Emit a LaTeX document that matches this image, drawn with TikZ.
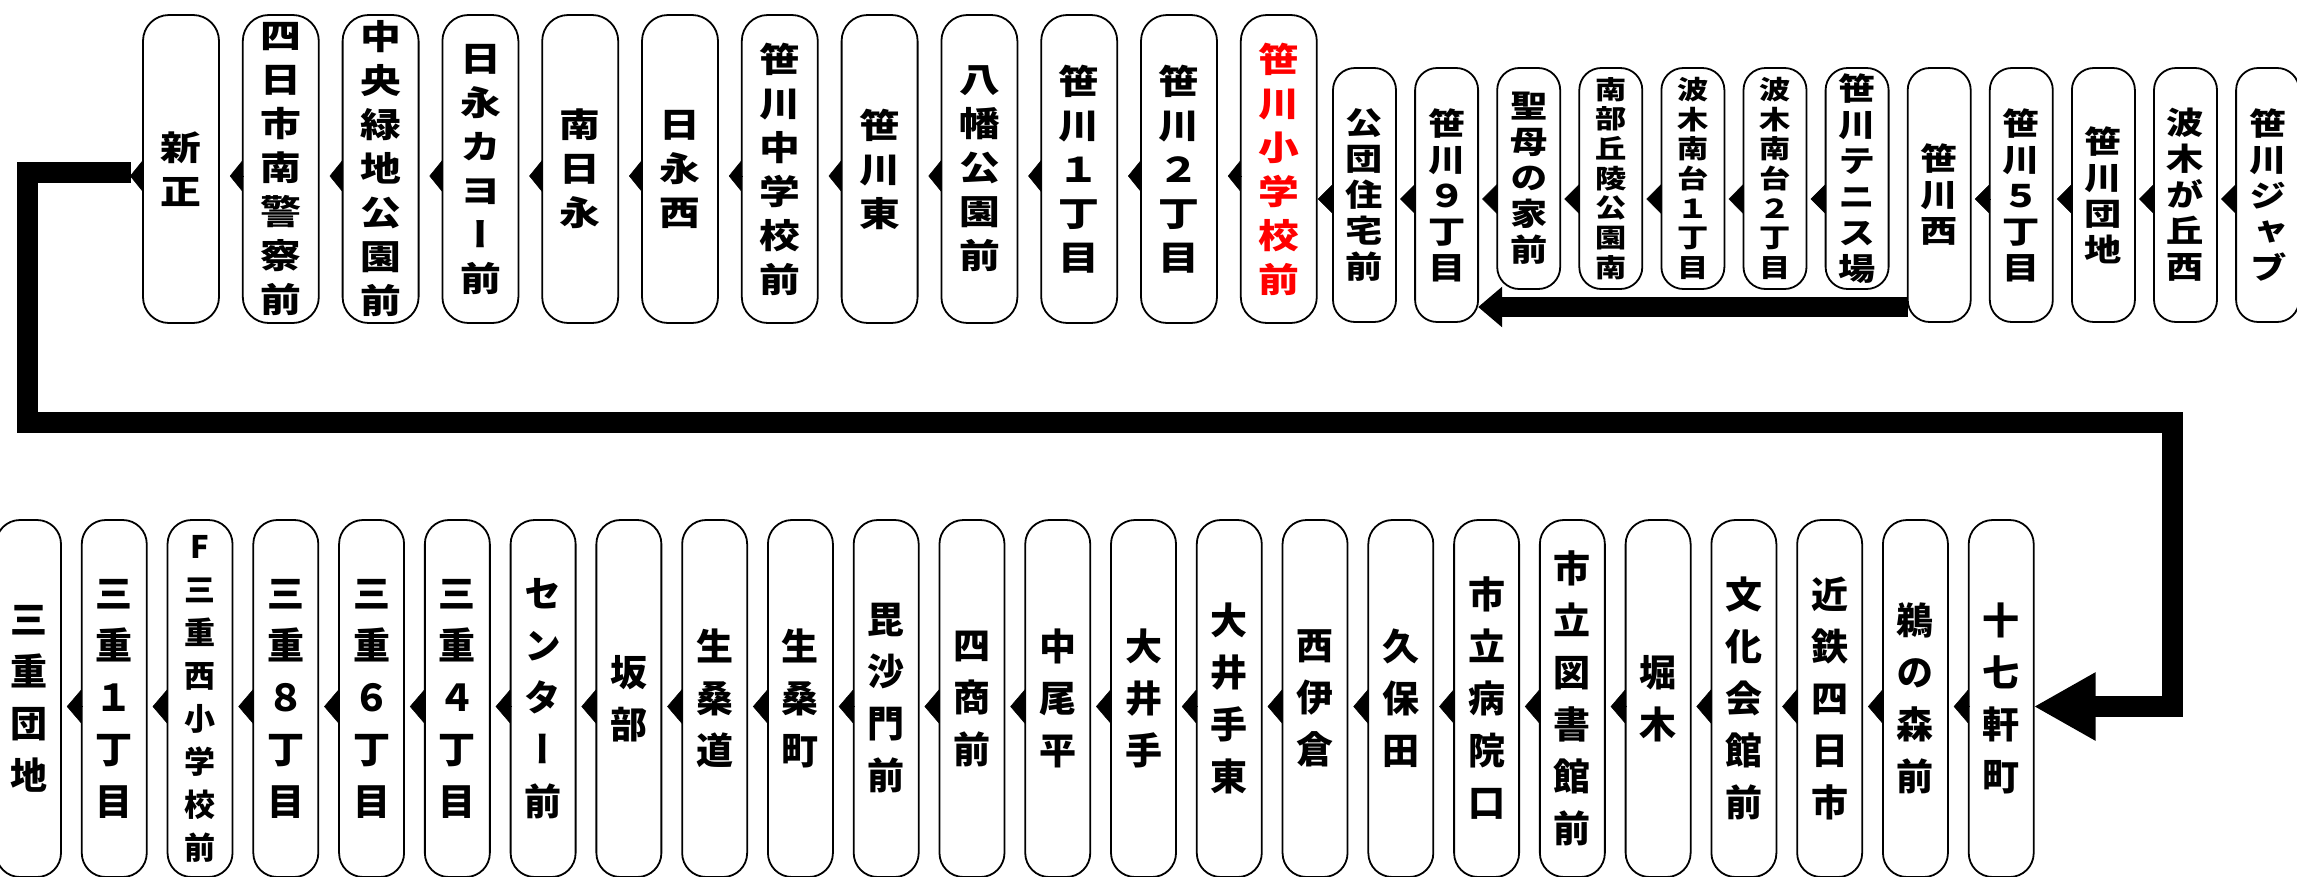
\documentclass[tikz,border=0pt]{standalone}
\usepackage{fontspec}
\newfontfamily\gothic{Noto Sans CJK JP}[RawFeature=+vert]
\newfontfamily\widegothic{Noto Sans CJK JP}[FakeStretch=1.2,RawFeature=+vert]
\usetikzlibrary{positioning, arrows.meta}

\begin{document}
\begin{tikzpicture}[x=1pt, y=-1pt]

\tikzset{
  stopbox/.style={
    rectangle, draw, line width=1.8pt, fill=white, align=center,
    inner sep=0pt, outer sep=0pt,
    font=\widegothic\bfseries\fontsize{34}{44}\selectfont
  },
  tallstop/.style={stopbox, rounded corners=26pt, minimum width=76pt, minimum height=308pt},
  shortstop/.style={stopbox, rounded corners=22pt, minimum width=63pt, minimum height=254pt,
    font=\widegothic\bfseries\fontsize{31}{36}\selectfont},
  loopstop/.style={shortstop, minimum height=221pt},
  smalltext/.style={font=\widegothic\bfseries\fontsize{26}{29.7}\selectfont},
  lowstop/.style={stopbox, rounded corners=24pt, minimum width=65pt, minimum height=357pt,
    font=\gothic\bfseries\fontsize{37}{52}\selectfont},
  toptip/.style={-{Triangle[length=13pt, width=32pt]}, line width=0.5pt, shorten >=10.8pt},
  midtip/.style={-{Triangle[length=15pt, width=30pt]}, line width=0.5pt, shorten >=4.1pt},
  lowtip/.style={-{Triangle[length=15pt, width=35pt]}, line width=0.5pt, shorten >=5.8pt},
  route/.style={-{Triangle[length=62pt, width=64pt]}, line width=21pt},
  branch/.style={-{Triangle[length=24pt, width=39pt]}, line width=20pt}
}

\useasboundingbox (0,0) rectangle (2297,876);

% =========================================================
% Upper row: tall stops
% =========================================================
\node[tallstop, anchor=north west] (shinsho) at (143,15) {新\\正};
\node[tallstop, right=23.8pt of shinsho] (keisatsu) {四\\日\\市\\南\\警\\察\\前};
\node[tallstop, right=23.8pt of keisatsu] (ryokuchi) {中\\央\\緑\\地\\公\\園\\前};
\node[tallstop, right=23.8pt of ryokuchi] (kayo) {日\\永\\カ\\ヨ\\ー\\前};
\node[tallstop, right=23.8pt of kayo] (minamihinaga) {南\\日\\永};
\node[tallstop, right=23.8pt of minamihinaga] (hinaganishi) {日\\永\\西};
\node[tallstop, right=23.8pt of hinaganishi] (chugaku) {笹\\川\\中\\学\\校\\前};
\node[tallstop, right=23.8pt of chugaku] (sasahigashi) {笹\\川\\東};
\node[tallstop, right=23.8pt of sasahigashi] (hachiman) {八\\幡\\公\\園\\前};
\node[tallstop, right=23.8pt of hachiman] (sasa1) {笹\\川\\１\\丁\\目};
\node[tallstop, right=23.8pt of sasa1] (sasa2) {笹\\川\\２\\丁\\目};
\node[tallstop, right=23.8pt of sasa2, text=red] (shogaku) {笹\\川\\小\\学\\校\\前};

% =========================================================
% Upper row: short stops and the tennis court loop
% =========================================================
\node[shortstop, anchor=north west] (kodan) at (1333,68) {公\\団\\住\\宅\\前};
\node[shortstop, right=19.1pt of kodan] (sasa9) {笹\\川\\９\\丁\\目};
\node[loopstop, right=19.1pt of sasa9.north east, anchor=north west] (seibo) {聖\\母\\の\\家\\前};
\node[loopstop, smalltext, right=19.1pt of seibo] (kyuryo) {南\\部\\丘\\陵\\公\\園\\南};
\node[loopstop, smalltext, right=19.1pt of kyuryo] (namiki1) {波\\木\\南\\台\\１\\丁\\目};
\node[loopstop, smalltext, right=19.1pt of namiki1] (namiki2) {波\\木\\南\\台\\２\\丁\\目};
\node[loopstop, right=19.1pt of namiki2] (tennis) {笹\\川\\テ\\ニ\\ス\\場};
\node[shortstop, right=19.1pt of tennis.north east, anchor=north west] (sasanishi) {笹\\川\\西};
\node[shortstop, right=19.1pt of sasanishi] (sasa5) {笹\\川\\５\\丁\\目};
\node[shortstop, right=19.1pt of sasa5] (danchi) {笹\\川\\団\\地};
\node[shortstop, right=19.1pt of danchi] (namikigaoka) {波\\木\\が\\丘\\西};
\node[shortstop, right=19.1pt of namikigaoka] (jab) {笹\\川\\ジ\\ャ\\ブ};

% =========================================================
% Lower row
% =========================================================
\node[lowstop, anchor=north west] (miedanchi) at (-4,520) {三\\重\\団\\地};
\node[lowstop, right=20.77pt of miedanchi] (mie1) {三\\重\\１\\丁\\目};
\node[lowstop, right=20.77pt of mie1, font=\gothic\bfseries\fontsize{31}{43}\selectfont] (mienishi) {F\\三\\重\\西\\小\\学\\校\\前};
\node[lowstop, right=20.77pt of mienishi] (mie8) {三\\重\\８\\丁\\目};
\node[lowstop, right=20.77pt of mie8] (mie6) {三\\重\\６\\丁\\目};
\node[lowstop, right=20.77pt of mie6] (mie4) {三\\重\\４\\丁\\目};
\node[lowstop, right=20.77pt of mie4] (center) {セ\\ン\\タ\\ー\\前};
\node[lowstop, right=20.77pt of center] (sakabe) {坂\\部};
\node[lowstop, right=20.77pt of sakabe] (ikuwamichi) {生\\桑\\道};
\node[lowstop, right=20.77pt of ikuwamichi] (ikuwacho) {生\\桑\\町};
\node[lowstop, right=20.77pt of ikuwacho] (bishamon) {毘\\沙\\門\\前};
\node[lowstop, right=20.77pt of bishamon] (yonsho) {四\\商\\前};
\node[lowstop, right=20.77pt of yonsho] (nakaodaira) {中\\尾\\平};
\node[lowstop, right=20.77pt of nakaodaira] (oide) {大\\井\\手};
\node[lowstop, right=20.77pt of oide] (oidehigashi) {大\\井\\手\\東};
\node[lowstop, right=20.77pt of oidehigashi] (nishiikura) {西\\伊\\倉};
\node[lowstop, right=20.77pt of nishiikura] (kubota) {久\\保\\田};
\node[lowstop, right=20.77pt of kubota] (byoin) {市\\立\\病\\院\\口};
\node[lowstop, right=20.77pt of byoin] (toshokan) {市\\立\\図\\書\\館\\前};
\node[lowstop, right=20.77pt of toshokan] (horiki) {堀\\木};
\node[lowstop, right=20.77pt of horiki] (bunka) {文\\化\\会\\館\\前};
\node[lowstop, right=20.77pt of bunka] (kintetsu) {近\\鉄\\四\\日\\市};
\node[lowstop, right=20.77pt of kintetsu] (unomori) {鵜\\の\\森\\前};
\node[lowstop, right=20.77pt of unomori] (jushichiken) {十\\七\\軒\\町};

% =========================================================
% Heights of the small arrows, route corners
% =========================================================
\coordinate (topline) at ([yshift=-7pt]shinsho.west);
\coordinate (midline) at ([yshift=-4pt]kodan.west);
\coordinate (lowline) at ([yshift=-8pt]jushichiken.west);
\coordinate (branchline) at ([yshift=-112pt]sasanishi.west);
\coordinate (westturn) at (27.5,422);
\coordinate (eastturn) at (2172.5,422);

% main route from the upper row down to the lower row
\draw[route] ([xshift=-12pt,yshift=-3pt]shinsho.west) -| (westturn) -- (eastturn) |- (jushichiken.east |- lowline);

% short cut past the tennis court loop
\draw[branch] (sasanishi.west |- branchline) -- (sasa9.east |- branchline);

% upper row arrows
\draw[toptip, shorten >=102.5pt] (shinsho.west |- topline) -- (westturn |- topline);
\draw[toptip] (keisatsu.west |- topline) -- (shinsho.east |- topline);
\draw[toptip] (ryokuchi.west |- topline) -- (keisatsu.east |- topline);
\draw[toptip] (kayo.west |- topline) -- (ryokuchi.east |- topline);
\draw[toptip] (minamihinaga.west |- topline) -- (kayo.east |- topline);
\draw[toptip] (hinaganishi.west |- topline) -- (minamihinaga.east |- topline);
\draw[toptip] (chugaku.west |- topline) -- (hinaganishi.east |- topline);
\draw[toptip] (sasahigashi.west |- topline) -- (chugaku.east |- topline);
\draw[toptip] (hachiman.west |- topline) -- (sasahigashi.east |- topline);
\draw[toptip] (sasa1.west |- topline) -- (hachiman.east |- topline);
\draw[toptip] (sasa2.west |- topline) -- (sasa1.east |- topline);
\draw[toptip] (shogaku.west |- topline) -- (sasa2.east |- topline);
\draw[midtip, shorten >=1pt] (kodan.west |- midline) -- (shogaku.east |- midline);
\draw[midtip] (sasa9.west |- midline) -- (kodan.east |- midline);
\draw[midtip] (seibo.west |- midline) -- (sasa9.east |- midline);
\draw[midtip] (kyuryo.west |- midline) -- (seibo.east |- midline);
\draw[midtip] (namiki1.west |- midline) -- (kyuryo.east |- midline);
\draw[midtip] (namiki2.west |- midline) -- (namiki1.east |- midline);
\draw[midtip] (tennis.west |- midline) -- (namiki2.east |- midline);
\draw[midtip] (sasa5.west |- midline) -- (sasanishi.east |- midline);
\draw[midtip] (danchi.west |- midline) -- (sasa5.east |- midline);
\draw[midtip] (namikigaoka.west |- midline) -- (danchi.east |- midline);
\draw[midtip] (jab.west |- midline) -- (namikigaoka.east |- midline);

% lower row arrows
\draw[lowtip] (mie1.west |- lowline) -- (miedanchi.east |- lowline);
\draw[lowtip] (mienishi.west |- lowline) -- (mie1.east |- lowline);
\draw[lowtip] (mie8.west |- lowline) -- (mienishi.east |- lowline);
\draw[lowtip] (mie6.west |- lowline) -- (mie8.east |- lowline);
\draw[lowtip] (mie4.west |- lowline) -- (mie6.east |- lowline);
\draw[lowtip] (center.west |- lowline) -- (mie4.east |- lowline);
\draw[lowtip] (sakabe.west |- lowline) -- (center.east |- lowline);
\draw[lowtip] (ikuwamichi.west |- lowline) -- (sakabe.east |- lowline);
\draw[lowtip] (ikuwacho.west |- lowline) -- (ikuwamichi.east |- lowline);
\draw[lowtip] (bishamon.west |- lowline) -- (ikuwacho.east |- lowline);
\draw[lowtip] (yonsho.west |- lowline) -- (bishamon.east |- lowline);
\draw[lowtip] (nakaodaira.west |- lowline) -- (yonsho.east |- lowline);
\draw[lowtip] (oide.west |- lowline) -- (nakaodaira.east |- lowline);
\draw[lowtip] (oidehigashi.west |- lowline) -- (oide.east |- lowline);
\draw[lowtip] (nishiikura.west |- lowline) -- (oidehigashi.east |- lowline);
\draw[lowtip] (kubota.west |- lowline) -- (nishiikura.east |- lowline);
\draw[lowtip] (byoin.west |- lowline) -- (kubota.east |- lowline);
\draw[lowtip] (toshokan.west |- lowline) -- (byoin.east |- lowline);
\draw[lowtip] (horiki.west |- lowline) -- (toshokan.east |- lowline);
\draw[lowtip] (bunka.west |- lowline) -- (horiki.east |- lowline);
\draw[lowtip] (kintetsu.west |- lowline) -- (bunka.east |- lowline);
\draw[lowtip] (unomori.west |- lowline) -- (kintetsu.east |- lowline);
\draw[lowtip] (jushichiken.west |- lowline) -- (unomori.east |- lowline);

\end{tikzpicture}
\end{document}
